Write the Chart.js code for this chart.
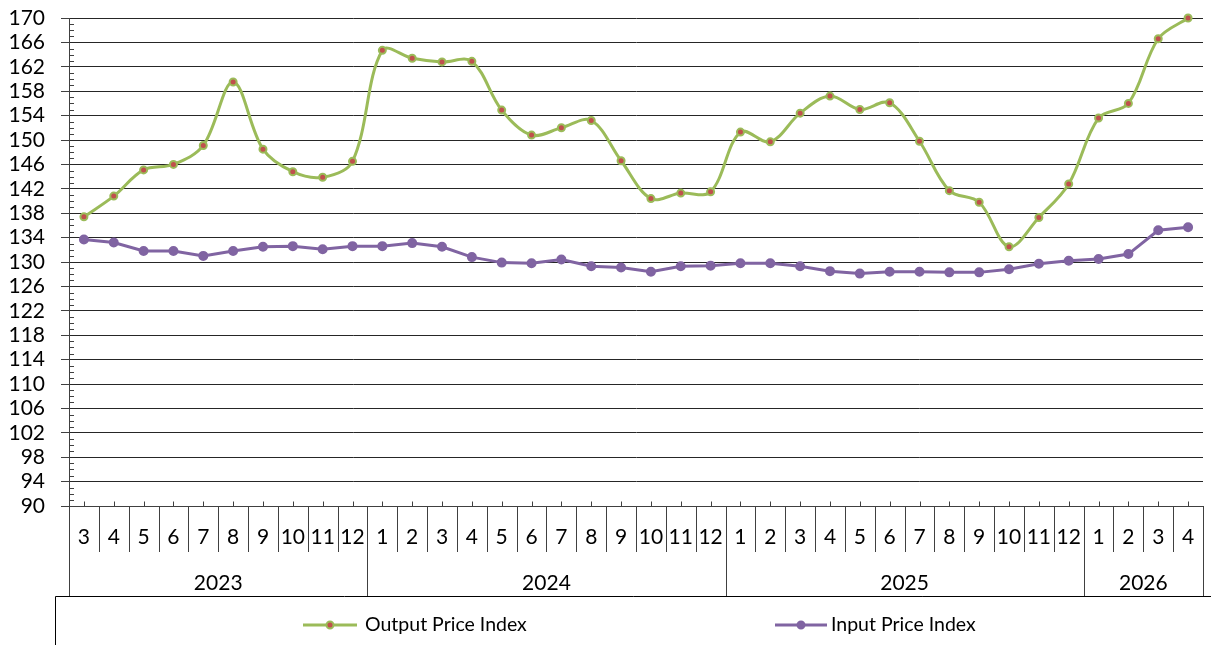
<!DOCTYPE html>
<html><head><meta charset="utf-8">
<script src="https://cdn.jsdelivr.net/npm/chart.js@4.4.1/dist/chart.umd.min.js"></script>
<style>html,body{margin:0;padding:0;background:#fff;}#wrap{width:1211px;height:645px;}</style>
</head><body><div id="wrap"><canvas id="c" width="1211" height="645" style="width:1211px;height:645px"></canvas></div>
<script>
// ---- data ----
const monthLabels = ['3','4','5','6','7','8','9','10','11','12',
  '1','2','3','4','5','6','7','8','9','10','11','12',
  '1','2','3','4','5','6','7','8','9','10','11','12',
  '1','2','3','4'];
const yearOfMonth = ['2023','2023','2023','2023','2023','2023','2023','2023','2023','2023',
  '2024','2024','2024','2024','2024','2024','2024','2024','2024','2024','2024','2024',
  '2025','2025','2025','2025','2025','2025','2025','2025','2025','2025','2025','2025',
  '2026','2026','2026','2026'];
const outputPriceIndex = [137.4,140.8,145.1,146.0,149.1,159.5,148.5,144.8,143.9,146.5,
  164.7,163.4,162.8,162.9,154.9,150.8,152.0,153.2,146.6,140.4,141.3,141.5,
  151.3,149.7,154.4,157.2,155.0,156.1,149.8,141.7,139.8,132.5,137.3,142.8,
  153.6,156.0,166.6,170.0];
const inputPriceIndex = [133.7,133.2,131.8,131.8,131.0,131.8,132.5,132.6,132.1,132.6,
  132.6,133.1,132.5,130.8,129.9,129.8,130.4,129.3,129.1,128.4,129.3,129.4,
  129.8,129.8,129.3,128.5,128.1,128.4,128.4,128.3,128.3,128.8,129.7,130.2,
  130.5,131.3,135.2,135.7];
const yMin = 90, yMax = 170, yStep = 4;
const seriesNames = ['Output Price Index','Input Price Index'];

const FONT = 'Lato, "Open Sans", sans-serif';
const GREEN = '#9BBB59', RED = '#C0504D', PURPLE = '#8064A2';
const LINE = '#404040';

const decorPlugin = {
  id: 'decor',
  afterDraw(chart) {
    const ctx = chart.ctx;
    const x = chart.scales.x, y = chart.scales.y;
    const area = chart.chartArea;
    const n = monthLabels.length;
    const half = (x.getPixelForValue(1) - x.getPixelForValue(0)) / 2;
    const bottom = Math.round(area.bottom) + 0.5;
    ctx.save();
    // minor ticks on y axis
    ctx.strokeStyle = LINE; ctx.lineWidth = 1;
    ctx.beginPath();
    for (let v = yMin; v <= yMax; v++) {
      if ((v - yMin) % yStep === 0) continue;
      const py = Math.round(y.getPixelForValue(v)) + 0.5;
      ctx.moveTo(area.left, py); ctx.lineTo(area.left + 5, py);
    }
    ctx.stroke();
    // ticks on x axis at category centres
    ctx.beginPath();
    for (let i = 0; i < n; i++) {
      const px = Math.round(x.getPixelForValue(i)) + 0.5;
      ctx.moveTo(px, bottom - 5); ctx.lineTo(px, bottom);
    }
    ctx.stroke();
    // separators
    ctx.beginPath();
    for (let i = 0; i <= n; i++) {
      const px = Math.round((i < n ? x.getPixelForValue(i) - half : x.getPixelForValue(n - 1) + half)) + 0.5;
      const yearEdge = (i === 0 || i === n || yearOfMonth[i] !== yearOfMonth[i - 1]);
      ctx.moveTo(px, bottom); ctx.lineTo(px, yearEdge ? 596 : 552);
    }
    ctx.stroke();
    // month labels
    ctx.fillStyle = '#000';
    ctx.font = '21px ' + FONT;
    ctx.textAlign = 'center'; ctx.textBaseline = 'middle';
    for (let i = 0; i < n; i++) ctx.fillText(monthLabels[i], x.getPixelForValue(i), 537);
    // year labels
    let start = 0;
    for (let i = 1; i <= n; i++) {
      if (i === n || yearOfMonth[i] !== yearOfMonth[start]) {
        const cx = (x.getPixelForValue(start) + x.getPixelForValue(i - 1)) / 2;
        ctx.fillText(yearOfMonth[start], cx, 583);
        start = i;
      }
    }
    // legend box
    ctx.strokeStyle = '#000';
    ctx.beginPath();
    ctx.moveTo(55.5, 645); ctx.lineTo(55.5, 596.5); ctx.lineTo(1211, 596.5);
    ctx.stroke();
    // legend items
    const items = [
      {x0: 303, x1: 357, tx: 365, color: GREEN, fill: RED, ds: 0},
      {x0: 775, x1: 827, tx: 831, color: PURPLE, fill: PURPLE, ds: 1}
    ];
    const ly = 625;
    items.forEach(it => {
      ctx.strokeStyle = it.color; ctx.lineWidth = 3;
      ctx.beginPath(); ctx.moveTo(it.x0, ly); ctx.lineTo(it.x1, ly); ctx.stroke();
      ctx.beginPath(); ctx.arc((it.x0 + it.x1) / 2, ly, 3.5, 0, Math.PI * 2);
      ctx.fillStyle = it.fill; ctx.fill();
      ctx.lineWidth = 2; ctx.strokeStyle = it.color; ctx.stroke();
      ctx.fillStyle = '#000';
      ctx.font = '19.5px ' + FONT;
      ctx.textAlign = 'left'; ctx.textBaseline = 'middle';
      ctx.fillText(chart.data.datasets[it.ds].label, it.tx, ly);
    });
    ctx.restore();
  }
};

function build() {
  new Chart(document.getElementById('c'), {
    type: 'line',
    data: {
      labels: monthLabels,
      datasets: [
        {
          label: seriesNames[0], data: outputPriceIndex,
          borderColor: GREEN, borderWidth: 3, tension: 0.35,
          pointRadius: 3.5, pointBorderWidth: 2,
          pointBackgroundColor: RED, pointBorderColor: GREEN, clip: false
        },
        {
          label: seriesNames[1], data: inputPriceIndex,
          borderColor: PURPLE, borderWidth: 3, tension: 0,
          pointRadius: 4, pointBorderWidth: 2,
          pointBackgroundColor: PURPLE, pointBorderColor: PURPLE, clip: false
        }
      ]
    },
    options: {
      responsive: false, animation: false, devicePixelRatio: 1,
      layout: { padding: { top: 18, right: 8, bottom: 0, left: 0 } },
      plugins: { legend: { display: false }, tooltip: { enabled: false } },
      scales: {
        x: {
          type: 'category', offset: true,
          grid: { display: false },
          border: { display: true, color: LINE },
          ticks: { display: false },
          afterFit(s) { s.height = 139; s.paddingLeft = 0; s.paddingRight = 0; }
        },
        y: {
          min: yMin, max: yMax,
          ticks: { stepSize: yStep, autoSkip: false, color: '#000', padding: 16, font: { family: FONT, size: 21 } },
          grid: { color: '#262626', lineWidth: 1, tickLength: 8, tickColor: LINE },
          border: { display: true, color: LINE },
          afterFit(s) { s.width = 69; s.paddingTop = 10; s.paddingBottom = 10; }
        }
      }
    },
    plugins: [decorPlugin]
  });
}
if (document.fonts && document.fonts.load) {
  Promise.all([document.fonts.load('21px Lato'), document.fonts.load('18px Lato')]).then(build, build);
} else build();
</script></body></html>
